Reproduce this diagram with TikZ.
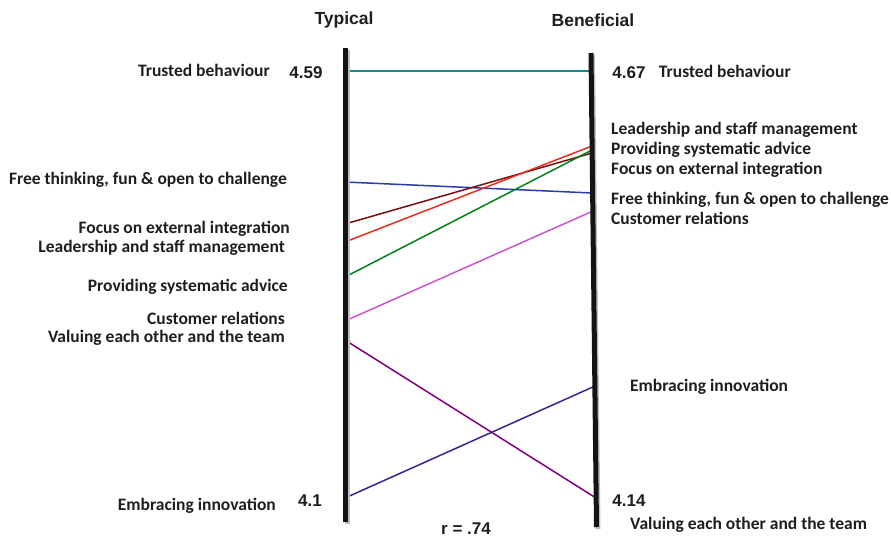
\documentclass[tikz,border=0pt]{standalone}
\usepackage{fontspec}
\setmainfont{Carlito}
\newfontfamily\headfont{Liberation Sans}
\usetikzlibrary{positioning}
\definecolor{labgray}{RGB}{30,30,30}
\definecolor{cTrust}{RGB}{20,140,140}
\definecolor{cFree}{RGB}{40,60,170}
\definecolor{cFocus}{RGB}{120,15,15}
\definecolor{cLead}{RGB}{230,45,30}
\definecolor{cAdvice}{RGB}{0,130,25}
\definecolor{cCust}{RGB}{205,85,205}
\definecolor{cValue}{RGB}{128,0,128}
\definecolor{cInnov}{RGB}{55,35,145}

\begin{document}
\begin{tikzpicture} [ x=1pt, y=-1pt, node distance=12pt,
    every node/.style={inner sep=0pt, text=labgray,
    font=\bfseries\fontsize{17.5}{20}\selectfont},
    head/.style= {font=\headfont\bfseries\fontsize{17.5}{20}\selectfont},
    num/.style= {font=\headfont\bfseries\fontsize{17}{20}\selectfont},
    ltag/.style={anchor=east},
    rtag/.style={anchor=west},
    axis/.style={line width=5pt, draw=black!92},
    shade/.style={line width=5pt, draw=black!25},
    link/.style={line width=1.5pt}
    ]
    \useasboundingbox (0,0) rectangle (891,539);

    % axes
    \coordinate (typTop) at (345.5,48);
    \coordinate (typBot) at (345.5,522);
    \coordinate (benTop) at (591,53);
    \coordinate (benBot) at (596.5,527);

    \node (hTyp) [head] at (344,20) {Typical};
    \node (hBen) [head] at (593,20) {Beneficial};

    % line ends, typical side
    \coordinate (tTrust)  at (345,71);
    \coordinate (tFree)   at (345,182);
    \coordinate (tFocus)  at (345,224);
    \coordinate (tLead)   at (345,242);
    \coordinate (tAdvice) at (345,277);
    \coordinate (tCust)   at (345,321);
    \coordinate (tValue)  at (345,340);
    \coordinate (tInnov)  at (345,498);
    % line ends, beneficial side
    \coordinate (bTrust)  at (591,71);
    \coordinate (bLead)   at (592,146);
    \coordinate (bAdvice) at (592,150);
    \coordinate (bFocus)  at (592,153);
    \coordinate (bFree)   at (592.5,193);
    \coordinate (bCust)   at (593,211);
    \coordinate (bInnov)  at (595,386);
    \coordinate (bValue)  at (596,498);

    \draw [link, cTrust]  (tTrust) -- (bTrust);
    \draw [link, cFree]   (tFree) -- (bFree);
    \draw [link, cFocus]  (tFocus) -- (bFocus);
    \draw [link, cLead]   (tLead) -- (bLead);
    \draw [link, cAdvice] (tAdvice) -- (bAdvice);
    \draw [link, cCust]   (tCust) -- (bCust);
    \draw [link, cValue]  (tValue) -- (bValue);
    \draw [link, cInnov]  (tInnov) -- (bInnov);

    \draw [shade] ([xshift=1.5pt,yshift=-2pt]typTop) -- ([xshift=1.5pt,yshift=-2pt]typBot);
    \draw [shade] ([xshift=1.5pt,yshift=-2pt]benTop) -- ([xshift=1.5pt,yshift=-2pt]benBot);
    \draw [axis] (typTop) -- (typBot);
    \draw [axis] (benTop) -- (benBot);

    % typical labels
    \node (nTyp1) [num] at (306,73) {4.59};
    \node (lTrust)  [ltag] at (270,70) {Trusted behaviour};
    \node (lFree)   [ltag] at (287,180) {Free thinking, fun \& open to challenge};
    \node (lFocus)  [ltag] at (290,229) {Focus on external integration};
    \node (lLead)   [ltag] at (285,248) {Leadership and staff management};
    \node (lAdvice) [ltag] at (288,287) {Providing systematic advice};
    \node (lCust)   [ltag] at (285,318) {Customer relations};
    \node (lValue)  [ltag] at (285,338) {Valuing each other and the team};
    \node (nTyp2) [num] at (310,501) {4.1};
    \node (lInnov)  [ltag] at (276,506) {Embracing innovation};

    % beneficial labels
    \node (nBen1) [num] at (629,73) {4.67};
    \node (rTrust) [rtag, right=13pt of nBen1, yshift=2pt] {Trusted behaviour};
    \node (rLead)   [rtag] at (611,130) {Leadership and staff management};
    \node (rAdvice) [rtag] at (611,150) {Providing systematic advice};
    \node (rFocus)  [rtag] at (611,170) {Focus on external integration};
    \node (rFree)   [rtag] at (611,200) {Free thinking, fun \& open to challenge};
    \node (rCust)   [rtag] at (611,218) {Customer relations};
    \node (rInnov)  [rtag] at (630,387) {Embracing innovation};
    \node (nBen2) [num] at (629,501) {4.14};
    \node (rValue)  [rtag] at (630,525) {Valuing each other and the team};

    \node (corr) [num] at (466,529) {r = .74};
  \end{tikzpicture}
\end{document}
